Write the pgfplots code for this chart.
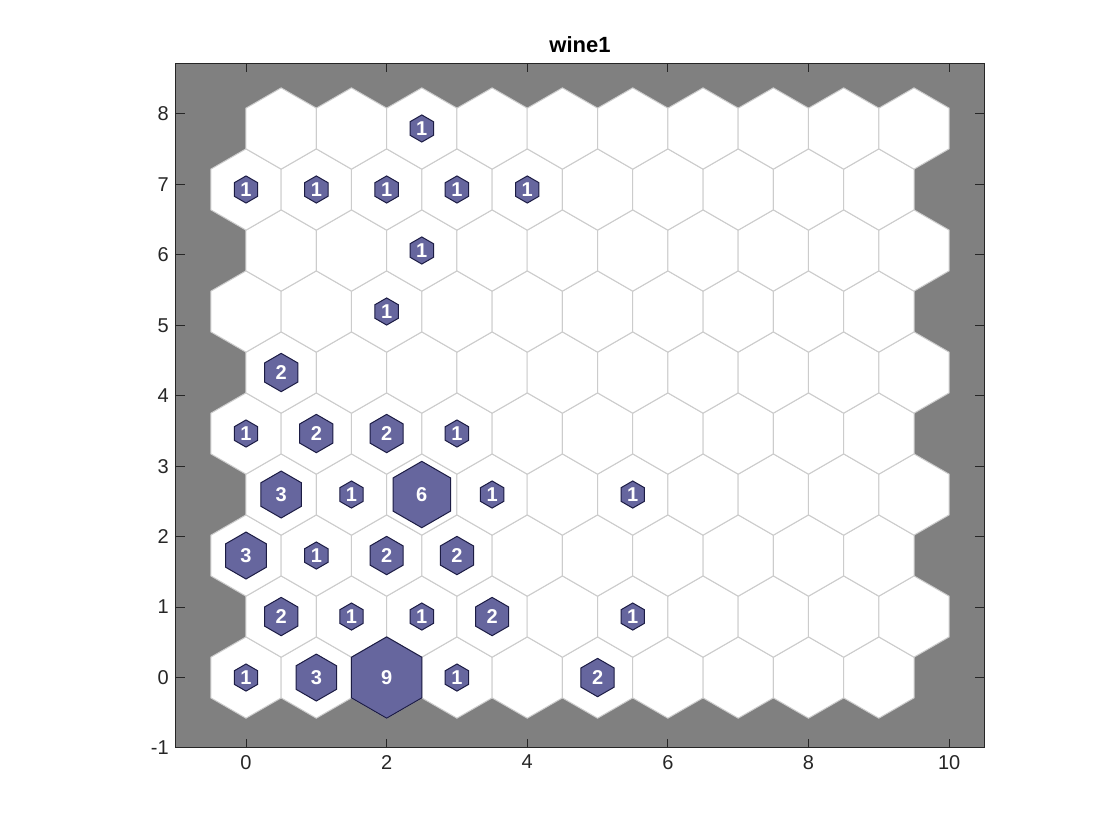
\documentclass[border=0pt]{standalone}
\usepackage{fontspec}
\setmainfont{Liberation Sans}
\usepackage{pgfplots}
\pgfplotsset{compat=1.18}
\usepackage{pgfplotstable}
\definecolor{bg}{gray}{0.5}
\definecolor{gridedge}{gray}{0.8}
\definecolor{hitfill}{RGB}{102,102,158}
\definecolor{hitedge}{RGB}{28,28,68}

\pgfdeclareplotmark{hexagon}{%
  \pgfpathmoveto{\pgfqpointpolar{90}{\pgfplotmarksize}}%
  \pgfpathlineto{\pgfqpointpolar{150}{\pgfplotmarksize}}%
  \pgfpathlineto{\pgfqpointpolar{210}{\pgfplotmarksize}}%
  \pgfpathlineto{\pgfqpointpolar{270}{\pgfplotmarksize}}%
  \pgfpathlineto{\pgfqpointpolar{330}{\pgfplotmarksize}}%
  \pgfpathlineto{\pgfqpointpolar{30}{\pgfplotmarksize}}%
  \pgfpathclose
  \pgfusepathqfillstroke
}

\pgfplotstableread{
x y
0 0
1 0
2 0
3 0
4 0
5 0
6 0
7 0
8 0
9 0
0.5 0.8660
1.5 0.8660
2.5 0.8660
3.5 0.8660
4.5 0.8660
5.5 0.8660
6.5 0.8660
7.5 0.8660
8.5 0.8660
9.5 0.8660
0 1.7321
1 1.7321
2 1.7321
3 1.7321
4 1.7321
5 1.7321
6 1.7321
7 1.7321
8 1.7321
9 1.7321
0.5 2.5981
1.5 2.5981
2.5 2.5981
3.5 2.5981
4.5 2.5981
5.5 2.5981
6.5 2.5981
7.5 2.5981
8.5 2.5981
9.5 2.5981
0 3.4641
1 3.4641
2 3.4641
3 3.4641
4 3.4641
5 3.4641
6 3.4641
7 3.4641
8 3.4641
9 3.4641
0.5 4.3301
1.5 4.3301
2.5 4.3301
3.5 4.3301
4.5 4.3301
5.5 4.3301
6.5 4.3301
7.5 4.3301
8.5 4.3301
9.5 4.3301
0 5.1962
1 5.1962
2 5.1962
3 5.1962
4 5.1962
5 5.1962
6 5.1962
7 5.1962
8 5.1962
9 5.1962
0.5 6.0622
1.5 6.0622
2.5 6.0622
3.5 6.0622
4.5 6.0622
5.5 6.0622
6.5 6.0622
7.5 6.0622
8.5 6.0622
9.5 6.0622
0 6.9282
1 6.9282
2 6.9282
3 6.9282
4 6.9282
5 6.9282
6 6.9282
7 6.9282
8 6.9282
9 6.9282
0.5 7.7942
1.5 7.7942
2.5 7.7942
3.5 7.7942
4.5 7.7942
5.5 7.7942
6.5 7.7942
7.5 7.7942
8.5 7.7942
9.5 7.7942
}\gridtab

% hits = 1
\pgfplotstableread{
x y h
0 0 1
3 0 1
1.5 0.8660 1
2.5 0.8660 1
5.5 0.8660 1
1 1.7321 1
1.5 2.5981 1
3.5 2.5981 1
5.5 2.5981 1
0 3.4641 1
3 3.4641 1
2 5.1962 1
2.5 6.0622 1
0 6.9282 1
1 6.9282 1
2 6.9282 1
3 6.9282 1
4 6.9282 1
2.5 7.7942 1
}\hitsone
% hits = 2
\pgfplotstableread{
x y h
5 0 2
0.5 0.8660 2
3.5 0.8660 2
2 1.7321 2
3 1.7321 2
1 3.4641 2
2 3.4641 2
0.5 4.3301 2
}\hitstwo
% hits = 3
\pgfplotstableread{
x y h
1 0 3
0 1.7321 3
0.5 2.5981 3
}\hitsthree
% hits = 6
\pgfplotstableread{
x y h
2.5 2.5981 6
}\hitssix
% hits = 9
\pgfplotstableread{
x y h
2 0 9
}\hitsnine

\begin{document}
\begin{tikzpicture}
\useasboundingbox (-87.85pt,-46pt) rectangle (472.15pt,374pt);
\begin{axis}[
  at={(0,0)}, anchor=south west,
  scale only axis,
  width=404.3pt, height=342.35pt,
  xmin=-1, xmax=10.5, ymin=-1, ymax=8.72,
  xtick={0,2,...,10}, ytick={-1,0,...,8},
  tick align=inside,
  major tick length=4.5pt,
  axis background/.style={fill=bg},
  axis line style={black!85, line width=0.5pt},
  tick style={black!85, line width=0.5pt},
  /pgf/number format/assume math mode=true,
  ticklabel style={font=\fontsize{10}{12}\selectfont, text=black!85},
  title={wine1},
  title style={font=\bfseries\fontsize{11}{13}\selectfont, yshift=-4.5pt},
  hitstyle/.style={only marks, mark=hexagon,
    mark options={fill=hitfill, draw=hitedge, line width=0.5pt},
    point meta=explicit symbolic,
    nodes near coords,
    every node near coord/.append style={anchor=center, text=white, inner sep=0pt,
      font=\bfseries\fontsize{10}{12}\selectfont}},
]
\addplot[only marks, mark=hexagon, mark size=20.32pt,
  mark options={fill=white, draw=gridedge, line width=0.5pt}]
  table[x=x, y=y]{\gridtab};
\addplot[hitstyle, mark size=6.773pt] table[x=x, y=y, meta=h]{\hitsone};
\addplot[hitstyle, mark size=9.579pt] table[x=x, y=y, meta=h]{\hitstwo};
\addplot[hitstyle, mark size=11.732pt] table[x=x, y=y, meta=h]{\hitsthree};
\addplot[hitstyle, mark size=16.591pt] table[x=x, y=y, meta=h]{\hitssix};
\addplot[hitstyle, mark size=20.32pt] table[x=x, y=y, meta=h]{\hitsnine};
\end{axis}
\end{tikzpicture}
\end{document}
